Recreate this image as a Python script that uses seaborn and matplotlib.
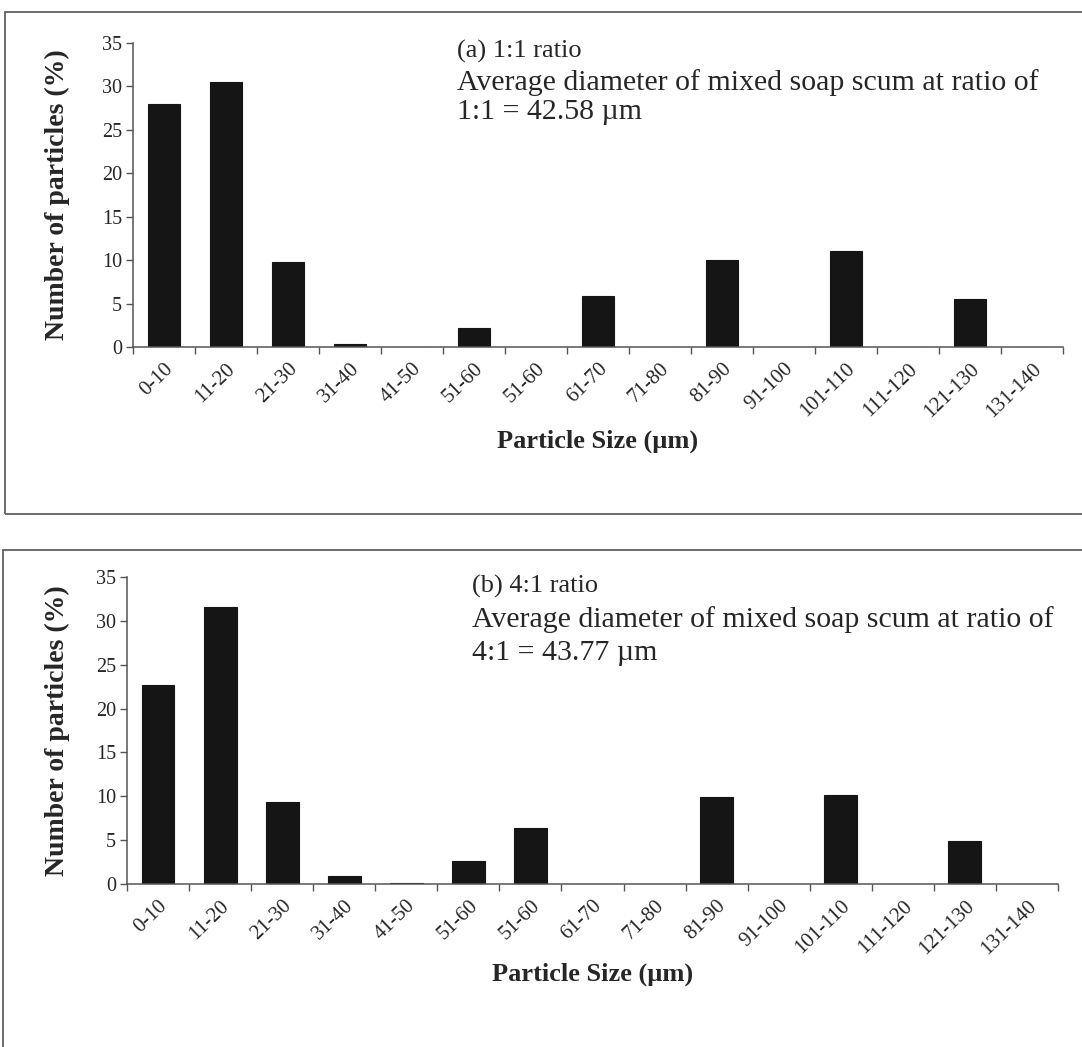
import matplotlib
matplotlib.use("Agg")
import numpy as np
import pandas as pd
import matplotlib.pyplot as plt
import seaborn as sns
from matplotlib.patches import Rectangle

# Particle size bins (µm) shared by both panels
size_labels = ["0-10", "11-20", "21-30", "31-40", "41-50", "51-60", "51-60",
               "61-70", "71-80", "81-90", "91-100", "101-110", "111-120",
               "121-130", "131-140"]

# Share of particles (%) per bin
pct_ratio_1_1 = [28.0, 30.5, 9.8, 0.4, 0.0, 2.2, 0.0, 5.9, 0.0, 10.0, 0.0,
                 11.0, 0.0, 5.5, 0.0]
pct_ratio_4_1 = [22.7, 31.6, 9.3, 0.9, 0.15, 2.6, 6.4, 0.0, 0.0, 9.9, 0.0,
                 10.1, 0.0, 4.9, 0.0]

y_ticks = [0, 5, 10, 15, 20, 25, 30, 35]

title_a = "(a) 1:1 ratio"
note_a = ["Average diameter of mixed soap scum at ratio of",
          "1:1 = 42.58 \u00b5m"]
title_b = "(b) 4:1 ratio"
note_b = ["Average diameter of mixed soap scum at ratio of",
          "4:1 = 43.77 \u00b5m"]

x_title = "Particle Size (\u00b5m)"
y_title = "Number of particles (%)"

sns.set_theme(style="ticks")
plt.rcParams["font.family"] = ["Liberation Serif", "DejaVu Serif"]
plt.rcParams["mathtext.default"] = "regular"

W, H = 1082, 1047
fig = plt.figure(figsize=(W / 100, H / 100), dpi=100)
fig.patch.set_facecolor("white")


def px_rect(left, top, right, bottom):
    """Convert a pixel box (origin top-left) into figure fractions."""
    return [left / W, 1 - bottom / H, (right - left) / W, (bottom - top) / H]


def draw_panel(box, values, title, note, text_x, baselines, xlabel_y):
    ax = fig.add_axes(px_rect(*box))
    df = pd.DataFrame({"bin": np.arange(len(size_labels)), "pct": values})
    sns.barplot(data=df, x="bin", y="pct", color="#151515", saturation=1,
                width=0.53, edgecolor="#151515", linewidth=0.8, ax=ax)
    n = len(size_labels)
    ax.set_xlim(-0.5, n - 0.5)
    ax.set_ylim(0, 35)
    ax.set_yticks(y_ticks)
    ax.set_yticklabels([str(t) for t in y_ticks], fontsize=14.5)
    ax.set_xticks(np.arange(n))
    ax.set_xticklabels(size_labels, rotation=44, ha="right",
                       rotation_mode="anchor", fontsize=15)
    ax.tick_params(axis="x", which="major", length=0, pad=9)
    ax.set_xticks(np.arange(n + 1) - 0.5, minor=True)
    ax.tick_params(axis="x", which="minor", length=5, width=1,
                   color="#555555", direction="out")
    ax.tick_params(axis="y", length=5, width=1, color="#555555",
                   direction="out", pad=3)
    for side in ("top", "right"):
        ax.spines[side].set_visible(False)
    for side in ("left", "bottom"):
        ax.spines[side].set_color("#555555")
        ax.spines[side].set_linewidth(1.1)
    ax.set_xlabel(x_title, fontsize=19, fontweight="bold")
    ax.set_ylabel(y_title, fontsize=20, fontweight="bold")
    ax_h = box[3] - box[1]
    ax.xaxis.set_label_coords(0.5, -(xlabel_y - box[3]) / ax_h)
    ax.yaxis.set_label_coords(-(box[0] - 70) / (box[2] - box[0]), 0.5)
    ax.set_facecolor("white")

    fig.text(text_x / W, 1 - baselines[0] / H, title, fontsize=19,
             va="baseline", ha="left")
    for line, base in zip(note, baselines[1:]):
        fig.text(text_x / W, 1 - base / H, line, fontsize=21.5,
                 va="baseline", ha="left")
    return ax


# Upper panel: 1:1 ratio
draw_panel((133, 43, 1063, 347), pct_ratio_1_1, title_a, note_a,
           457, (58, 90, 119), 430)
# Lower panel: 4:1 ratio
draw_panel((127, 577, 1058, 884), pct_ratio_4_1, title_b, note_b,
           472, (593, 627, 660), 963)

# Thin frames round each panel
frame_kw = dict(transform=fig.transFigure, fill=False, edgecolor="#606060",
                linewidth=1.3, clip_on=False)
fig.add_artist(Rectangle((5 / W, 1 - 514 / H), 1.2, (514 - 12) / H, **frame_kw))
fig.add_artist(Rectangle((3 / W, -0.05), 1.2, 0.05 + (1 - 550 / H), **frame_kw))

fig.savefig("out.png", dpi=100, facecolor="white")
